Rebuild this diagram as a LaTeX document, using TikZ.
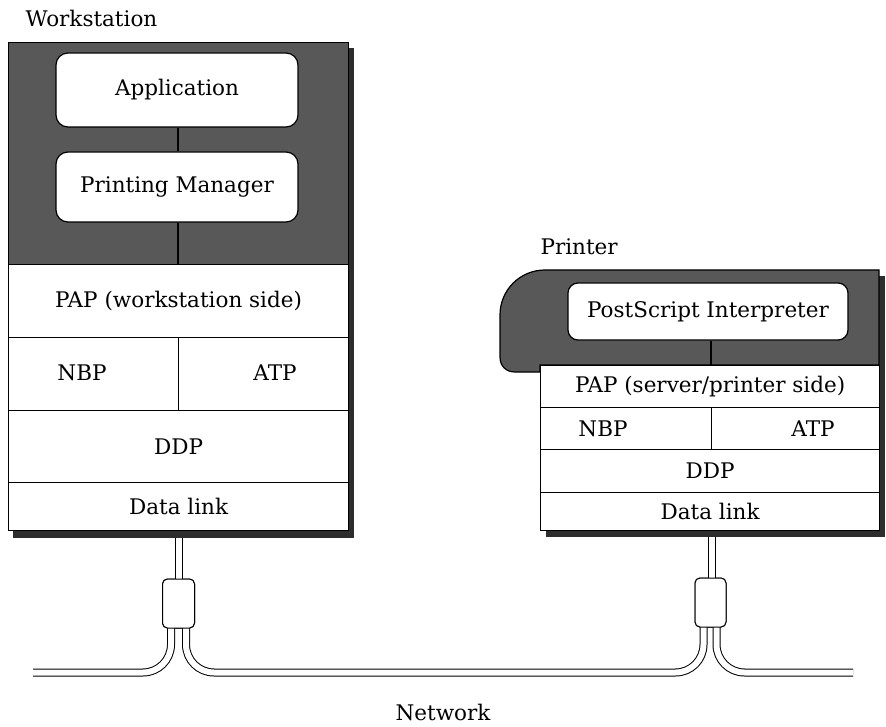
\documentclass[tikz,border=0pt]{standalone}
\usepackage{fontspec}
\setmainfont{DejaVu Serif}
\usetikzlibrary{calc}
\definecolor{darkc}{RGB}{88,88,88}
\definecolor{shadowc}{RGB}{45,45,45}
\begin{document}
\begin{tikzpicture}[x=1pt,y=-1pt,line width=1.2pt,
  lbl/.style={font=\fontsize{21.5}{26}\selectfont,inner sep=0pt},
  layer/.style={draw,fill=white,inner sep=0pt,anchor=north west,font=\fontsize{21.5}{26}\selectfont},
  appbox/.style={draw,fill=white,rounded corners=12pt,inner sep=0pt,font=\fontsize{21.5}{26}\selectfont},
  darkbox/.style={draw,fill=darkc,inner sep=0pt,anchor=north west},
  tapbox/.style={draw,fill=white,rounded corners=5pt,inner sep=0pt,line width=1pt},
  cable/.style={double=white,double distance=6pt,line width=1pt,rounded corners=28pt}]
\useasboundingbox (0,0) rectangle (886,727);

% taps (positions)
\coordinate (L) at (33,672.5);
\coordinate (R) at (853,672.5);
\coordinate (M) at (440,672.5);
\node[tapbox,minimum width=32pt,minimum height=49pt] (tap1) at (178.5,603.5) {};
\node[tapbox,minimum width=31pt,minimum height=49pt] (tap2) at (710.5,602.5) {};

% cables (drawn first, boxes cover ends)
\draw[cable] ([xshift=-7.5pt]tap1.center) |- (L);
\draw[cable] ([xshift=7.5pt]tap1.center) |- (M) -| ([xshift=-7pt]tap2.center);
\draw[cable] ([xshift=6pt]tap2.center) |- (R);
\draw[cable] (179,520) -- (179,604);
\draw[cable] (711.5,520) -- (711.5,604);
\node[tapbox,minimum width=32pt,minimum height=49pt] at (tap1) {};
\node[tapbox,minimum width=31pt,minimum height=49pt] at (tap2) {};

% ---------- Workstation ----------
\fill[shadowc] (13,48) rectangle (354,538);
\node[darkbox,minimum width=340pt,minimum height=222pt] (ws) at (8,42) {};
\node[appbox,minimum width=242pt,minimum height=74pt] (app) at (177,90) {Application};
\node[appbox,minimum width=242pt,minimum height=70pt] (pm) at (177,187) {Printing Manager};
\node[layer,minimum width=340pt,minimum height=73pt] (pap1) at (8,264) {PAP (workstation side)};
\node[layer,minimum width=170pt,minimum height=73pt] (nbp1) at (8,337) {};
\node[layer,minimum width=170pt,minimum height=73pt] (atp1) at (178,337) {};
\node[layer,minimum width=340pt,minimum height=72pt] (ddp1) at (8,410) {DDP};
\node[layer,minimum width=340pt,minimum height=48pt] (dl1) at (8,482) {Data link};
\node[lbl] (nbp1t) at (82,373) {NBP};
\node[lbl] (atp1t) at (275,373) {ATP};
\draw ([xshift=1pt]app.south) -- ([xshift=1pt]pm.north);
\draw ([xshift=1pt]pm.south) -- ([xshift=1pt]pm.south |- pap1.north);

% ---------- Printer ----------
\fill[shadowc] (546,276) rectangle (885,537);
\draw[fill=darkc] (879,270) -- (545,270) .. controls (520,270) and (500,290) .. (500,315)
  -- (500,357) .. controls (500,366) and (506,372) .. (515,372) -- (540,372) -- (540,365) -- (879,365) -- cycle;
\node[appbox,minimum width=280pt,minimum height=57pt,rounded corners=10pt] (ps) at (708,311.5) {PostScript Interpreter};
\node[layer,minimum width=339pt,minimum height=42pt] (pap2) at (540,365) {PAP (server/printer side)};
\node[layer,minimum width=171pt,minimum height=42pt] (nbp2) at (540,407) {};
\node[layer,minimum width=168pt,minimum height=42pt] (atp2) at (711,407) {};
\node[layer,minimum width=339pt,minimum height=43pt] (ddp2) at (540,449) {DDP};
\node[layer,minimum width=339pt,minimum height=38pt] (dl2) at (540,492) {Data link};
\node[lbl] (nbp2t) at (603,429) {NBP};
\node[lbl] (atp2t) at (813,429) {ATP};
\draw ([xshift=3pt]ps.south) -- ([xshift=3pt]ps.south |- pap2.north);

% ---------- labels ----------
\node[lbl,anchor=west] (wslbl) at (25,18) {Workstation};
\node[lbl,anchor=west] (prlbl) at (540,247) {Printer};
\node[lbl] (netlbl) at (443,712) {Network};
\end{tikzpicture}
\end{document}
